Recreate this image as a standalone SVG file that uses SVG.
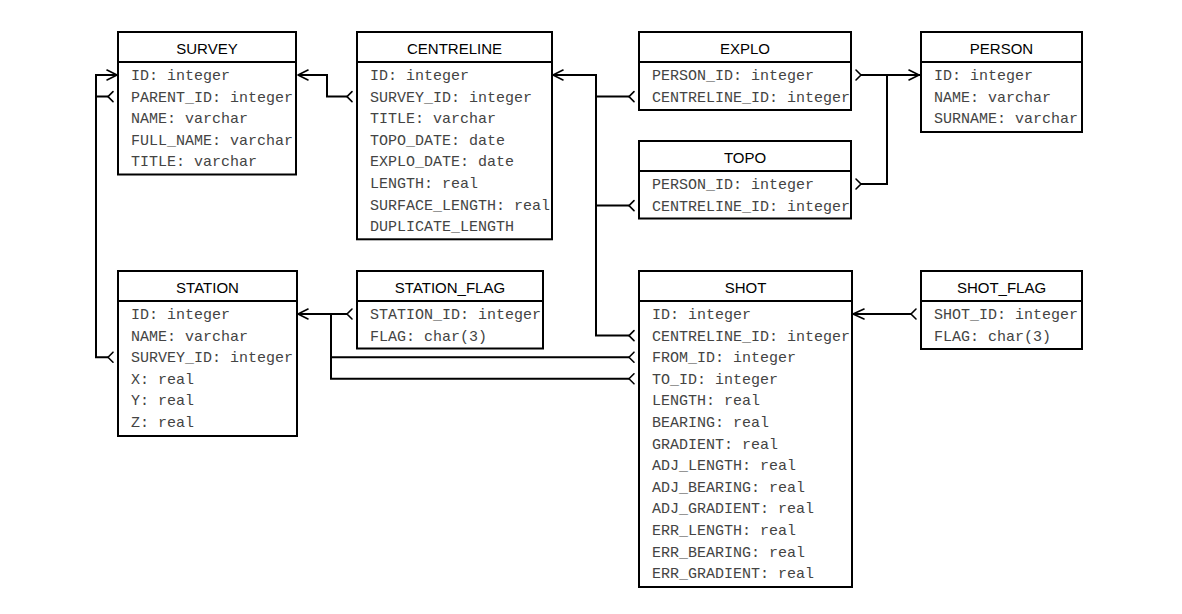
<svg xmlns="http://www.w3.org/2000/svg" width="1182" height="614" viewBox="0 0 1182 614">
<style>
.box{fill:#fff;stroke:#000;stroke-width:2}
.sep{stroke:#000;stroke-width:2}
.hd{font-family:"Liberation Sans",Arial,sans-serif;font-size:15px;fill:#000;text-anchor:middle}
.f{font-family:"Liberation Mono","Courier New",monospace;font-size:15px;fill:#444}
.c{fill:none;stroke:#000;stroke-width:2;stroke-linejoin:miter}
.m{fill:none;stroke:#000;stroke-width:1.6;stroke-linejoin:round;stroke-linecap:round}
</style>
<rect width="1182" height="614" fill="#fff"/>

<g id="connectors">
<!-- CENTRELINE.SURVEY_ID -> SURVEY.ID -->
<path class="c" d="M347 96.6H327V75H298"/>
<path class="m" d="M352 91.6L347 96.6L352 101.6"/>
<path class="m" d="M308 70L298 75L308 80"/>
<!-- SURVEY.PARENT_ID -> SURVEY.ID -->
<path class="c" d="M108 96.6H96V75H117"/>
<path class="m" d="M113 91.6L108 96.6L113 101.6"/>
<path class="m" d="M107 70L117 75L107 80"/>
<!-- STATION.SURVEY_ID -> SURVEY.ID -->
<path class="c" d="M108 357.2H96V75"/>
<path class="m" d="M113 352.2L108 357.2L113 362.2"/>
<!-- EXPLO/TOPO/SHOT.CENTRELINE_ID -> CENTRELINE.ID -->
<path class="c" d="M629 96.6H596V75H553"/>
<path class="c" d="M629 205.6H596V96"/>
<path class="c" d="M629 335.6H596V205"/>
<path class="m" d="M563 70L553 75L563 80"/>
<path class="m" d="M634 91.6L629 96.6L634 101.6"/>
<path class="m" d="M634 200.6L629 205.6L634 210.6"/>
<path class="m" d="M634 330.6L629 335.6L634 340.6"/>
<!-- EXPLO/TOPO.PERSON_ID -> PERSON.ID -->
<path class="c" d="M861 75H920"/>
<path class="c" d="M861 184H887V75"/>
<path class="m" d="M856 70L861 75L856 80"/>
<path class="m" d="M856 179L861 184L856 189"/>
<path class="m" d="M909 70L919 75L909 80"/>
<!-- STATION_FLAG.STATION_ID -> STATION.ID -->
<path class="c" d="M347 314H298"/>
<path class="m" d="M352 309L347 314L352 319"/>
<path class="m" d="M308 309L298 314L308 319"/>
<!-- SHOT.FROM_ID / TO_ID -> STATION.ID -->
<path class="c" d="M629 357.2H331V314"/>
<path class="c" d="M629 378.8H331V357"/>
<path class="m" d="M634 352.2L629 357.2L634 362.2"/>
<path class="m" d="M634 373.8L629 378.8L634 383.8"/>
<!-- SHOT_FLAG.SHOT_ID -> SHOT.ID -->
<path class="c" d="M911 314H853"/>
<path class="m" d="M916 309L911 314L916 319"/>
<path class="m" d="M864 309L853 314L864 319"/>
</g>

<g id="survey">
<rect class="box" x="118" y="32" width="178" height="142.5"/>
<line class="sep" x1="118" y1="62" x2="296" y2="62"/>
<text class="hd" x="207" y="54">SURVEY</text>
<text class="f" x="131" y="80">ID: integer</text>
<text class="f" x="131" y="101.6">PARENT_ID: integer</text>
<text class="f" x="131" y="123.2">NAME: varchar</text>
<text class="f" x="131" y="144.8">FULL_NAME: varchar</text>
<text class="f" x="131" y="166.4">TITLE: varchar</text>
</g>

<g id="centreline">
<rect class="box" x="357" y="32" width="195" height="207.3"/>
<line class="sep" x1="357" y1="62" x2="552" y2="62"/>
<text class="hd" x="454.5" y="54">CENTRELINE</text>
<text class="f" x="370" y="80">ID: integer</text>
<text class="f" x="370" y="101.6">SURVEY_ID: integer</text>
<text class="f" x="370" y="123.2">TITLE: varchar</text>
<text class="f" x="370" y="144.8">TOPO_DATE: date</text>
<text class="f" x="370" y="166.4">EXPLO_DATE: date</text>
<text class="f" x="370" y="188">LENGTH: real</text>
<text class="f" x="370" y="209.6">SURFACE_LENGTH: real</text>
<text class="f" x="370" y="231.2">DUPLICATE_LENGTH</text>
</g>

<g id="explo">
<rect class="box" x="639" y="32" width="212" height="78"/>
<line class="sep" x1="639" y1="62" x2="851" y2="62"/>
<text class="hd" x="745" y="54">EXPLO</text>
<text class="f" x="652" y="80">PERSON_ID: integer</text>
<text class="f" x="652" y="101.6">CENTRELINE_ID: integer</text>
</g>

<g id="topo">
<rect class="box" x="639" y="141" width="212" height="77.5"/>
<line class="sep" x1="639" y1="171" x2="851" y2="171"/>
<text class="hd" x="745" y="163">TOPO</text>
<text class="f" x="652" y="189">PERSON_ID: integer</text>
<text class="f" x="652" y="210.6">CENTRELINE_ID: integer</text>
</g>

<g id="person">
<rect class="box" x="921" y="32" width="161" height="100"/>
<line class="sep" x1="921" y1="62" x2="1082" y2="62"/>
<text class="hd" x="1001.5" y="54">PERSON</text>
<text class="f" x="934" y="80">ID: integer</text>
<text class="f" x="934" y="101.6">NAME: varchar</text>
<text class="f" x="934" y="123.2">SURNAME: varchar</text>
</g>

<g id="station">
<rect class="box" x="118" y="271" width="179" height="165"/>
<line class="sep" x1="118" y1="301" x2="297" y2="301"/>
<text class="hd" x="207.5" y="293">STATION</text>
<text class="f" x="131" y="319">ID: integer</text>
<text class="f" x="131" y="340.6">NAME: varchar</text>
<text class="f" x="131" y="362.2">SURVEY_ID: integer</text>
<text class="f" x="131" y="383.8">X: real</text>
<text class="f" x="131" y="405.4">Y: real</text>
<text class="f" x="131" y="427">Z: real</text>
</g>

<g id="station_flag">
<rect class="box" x="357" y="271" width="186" height="77.5"/>
<line class="sep" x1="357" y1="301" x2="543" y2="301"/>
<text class="hd" x="450" y="293">STATION_FLAG</text>
<text class="f" x="370" y="319">STATION_ID: integer</text>
<text class="f" x="370" y="340.6">FLAG: char(3)</text>
</g>

<g id="shot">
<rect class="box" x="639" y="271" width="213" height="316"/>
<line class="sep" x1="639" y1="301" x2="852" y2="301"/>
<text class="hd" x="745.5" y="293">SHOT</text>
<text class="f" x="652" y="319">ID: integer</text>
<text class="f" x="652" y="340.6">CENTRELINE_ID: integer</text>
<text class="f" x="652" y="362.2">FROM_ID: integer</text>
<text class="f" x="652" y="383.8">TO_ID: integer</text>
<text class="f" x="652" y="405.4">LENGTH: real</text>
<text class="f" x="652" y="427">BEARING: real</text>
<text class="f" x="652" y="448.6">GRADIENT: real</text>
<text class="f" x="652" y="470.2">ADJ_LENGTH: real</text>
<text class="f" x="652" y="491.8">ADJ_BEARING: real</text>
<text class="f" x="652" y="513.4">ADJ_GRADIENT: real</text>
<text class="f" x="652" y="535">ERR_LENGTH: real</text>
<text class="f" x="652" y="556.6">ERR_BEARING: real</text>
<text class="f" x="652" y="578.2">ERR_GRADIENT: real</text>
</g>

<g id="shot_flag">
<rect class="box" x="921" y="271" width="161" height="78"/>
<line class="sep" x1="921" y1="301" x2="1082" y2="301"/>
<text class="hd" x="1001.5" y="293">SHOT_FLAG</text>
<text class="f" x="934" y="319">SHOT_ID: integer</text>
<text class="f" x="934" y="340.6">FLAG: char(3)</text>
</g>
</svg>
